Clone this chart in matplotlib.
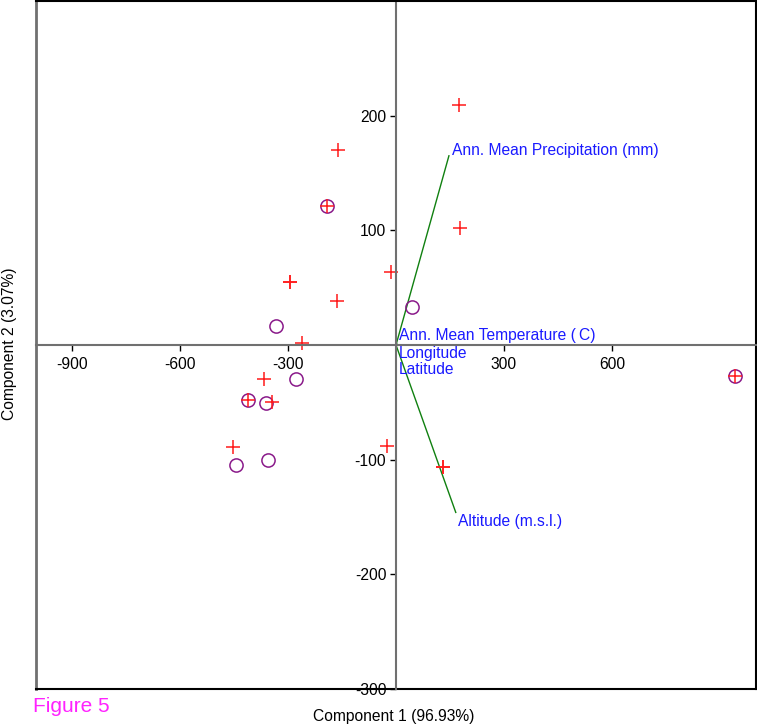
import matplotlib
matplotlib.use("Agg")
import matplotlib.pyplot as plt

plt.rcParams['font.family'] = ['Liberation Sans', 'DejaVu Sans']

# Scores (red plus markers)
plus_x = [176, -161, -192, 178, -15, -294, -294, -165, -260, -366, -412, -344, -452, -26, 131, 131, 941]
plus_y = [209, 170, 121.5, 102, 64, 55, 55, 38.5, 2, -30, -48, -50, -89, -88, -106, -106, -27]

# Scores (purple circles)
circ_x = [-192, -333, 45, -277, -412, -362, -356, -444, 941]
circ_y = [121.5, 17, 33, -30, -48, -51, -100, -105, -27]

# Loadings (biplot vectors)
var_names = ["Ann. Mean Precipitation (mm)", "Ann. Mean Temperature (\u2009C)",
             "Longitude", "Latitude", "Altitude (m.s.l.)"]
var_x = [147, 2, 1, 0.5, 166]
var_y = [165, 1, -0.5, -1, -146]
lab_x = [155, 8, 8, 8, 172]
lab_y = [170, 8, -7, -21, -154]

xticks = [-900, -600, -300, 300, 600]
yticks = [-300, -200, -100, 100, 200]

FS = 11.25

fig = plt.figure(figsize=(7.57, 7.25), dpi=100)
ax = fig.add_axes([36/757, 36/725, 720/757, 688/725])
ax.set_xlim(-1000, 1000)
ax.set_ylim(-300, 300)

ax.spines['left'].set_position(('data', 0))
ax.spines['bottom'].set_position(('data', 0))
for s in ['left', 'bottom']:
    ax.spines[s].set_color('#707070')
    ax.spines[s].set_linewidth(1.5)
for s in ['top', 'right']:
    ax.spines[s].set_color('black')
    ax.spines[s].set_linewidth(1.5)
# outer frame left and bottom
ax.plot([0, 0], [0, 1], transform=ax.transAxes, color='#707070', lw=2, clip_on=False)
ax.plot([0, 1], [0, 0], transform=ax.transAxes, color='black', lw=1.5, clip_on=False)

ax.set_xticks(xticks)
ax.set_xticklabels([str(v) for v in xticks])
ax.set_yticks(yticks)
ax.set_yticklabels([str(v) for v in yticks])
ax.tick_params(axis='both', direction='out', length=4.5, width=1, color='black',
               labelsize=FS)
ax.tick_params(axis='x', pad=4)
ax.tick_params(axis='y', pad=2.5)

for vx, vy in zip(var_x, var_y):
    ax.plot([0, vx], [0, vy], color='#108010', lw=1)

ax.plot(circ_x, circ_y, 'o', mfc='none', mec='#8a1a8a', ms=9.5, mew=1.1, ls='none')
ax.plot(plus_x, plus_y, '+', color='#ff1a1a', ms=10, mew=1.1, ls='none')

for name, tx, ty in zip(var_names, lab_x, lab_y):
    ax.text(tx, ty, name, color='#1a1aff', fontsize=FS, ha='left', va='center')

fig.text(394/757, 1 - 716/725, "Component 1 (96.93%)", ha='center', va='center', fontsize=FS)
fig.text(10/757, 1 - 344/725, "Component 2 (3.07%)", ha='center', va='center',
         rotation=90, fontsize=FS)
fig.text(33/757, 1 - 707/725, "Figure 5", ha='left', va='center', fontsize=15, color='#ff22ff')

fig.savefig("out.png", dpi=100)
